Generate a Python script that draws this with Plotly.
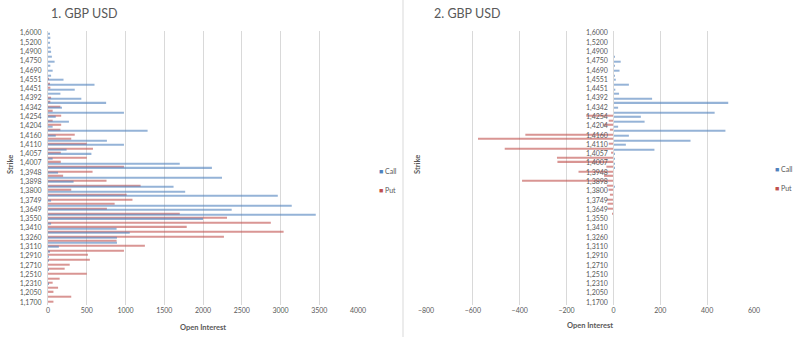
import plotly.graph_objects as go

# Strikes from top to bottom
strikes = ["1,6000", "1,5500", "1,5200", "1,5000", "1,4900", "1,4800", "1,4750", "1,4720",
           "1,4690", "1,4600", "1,4551", "1,4500", "1,4451", "1,4420", "1,4392", "1,4370",
           "1,4342", "1,4300", "1,4254", "1,4230", "1,4204", "1,4180", "1,4160", "1,4130",
           "1,4110", "1,4080", "1,4057", "1,4030", "1,4007", "1,3980", "1,3948", "1,3920",
           "1,3898", "1,3850", "1,3800", "1,3780", "1,3749", "1,3700", "1,3649", "1,3600",
           "1,3550", "1,3500", "1,3410", "1,3350", "1,3260", "1,3200", "1,3110", "1,3010",
           "1,2910", "1,2810", "1,2710", "1,2610", "1,2510", "1,2410", "1,2310", "1,2200",
           "1,2050", "1,1900", "1,1700"]
tick_strikes = strikes[::2]

# Chart 1: open interest
call_oi = [25, 30, 20, 35, 40, 50, 85, 30, 60, 40, 200, 600, 345, 160, 430, 750,
           180, 980, 100, 270, 60, 1285, 100, 760, 980, 240, 560, 60, 1700, 2115,
           130, 2245, 330, 1620, 1770, 2965, 40, 3145, 2370, 3455, 2000, 40, 885, 1055,
           890, 890, 140, 20, 10, 10, 0, 5, 0, 0, 10, 0, 0, 0, 0]
put_oi = [0, 0, 0, 0, 0, 0, 0, 0, 0, 0, 10, 20, 30, 0, 40, 30,
          160, 60, 170, 60, 170, 160, 345, 300, 500, 580, 165, 500, 165, 980,
          575, 195, 755, 1195, 300, 1015, 1090, 860, 760, 1700, 2310, 2875, 1790, 3040,
          2270, 885, 1250, 980, 515, 540, 280, 215, 500, 150, 60, 130, 70, 300, 70]

# Chart 2: change in open interest
call_chg = [0, 0, 0, 0, 0, 5, 31, 5, 26, 5, 10, 66, 8, 24, 165, 490,
            20, 432, 117, 133, 20, 478, 66, 329, 53, 175, 5, 3, 5, 3,
            2, 2, 0, 3, 0, 0, 0, 0, 0, 0, 0, 0, 0, 0,
            0, 0, 0, 0, 0, 0, 0, 0, 0, 0, 0, 0, 0, 0, 0]
put_chg = [0, 0, 0, 0, 0, 0, 0, 0, 0, 0, 0, 0, 0, 0, 0, 0,
           0, 0, -116, -20, -43, -15, -376, -578, -20, -464, -10, -241, -239, -30,
           -149, -40, -390, -28, -21, -15, -28, -25, -25, -6, 0, 0, 0, 0,
           0, 0, 0, 0, 0, 0, 0, 0, 0, 0, 0, 0, 0, 0, 0]

series_names = ["Call", "Put"]

BLUE = "#4F81BD"
RED = "#C0504D"
GRID = "#D9D9D9"
TXT = "#595959"
FONT = "Lato"
W, H = 800, 337

def px(x):
    return x / W

def py(y):
    return 1 - y / H

fig = go.Figure()

fig.add_trace(go.Bar(y=strikes, x=put_oi, orientation="h", marker_color=RED, opacity=0.6,
                     marker_line_width=0, showlegend=False, xaxis="x", yaxis="y"))
fig.add_trace(go.Bar(y=strikes, x=call_oi, orientation="h", marker_color=BLUE, opacity=0.6,
                     marker_line_width=0, showlegend=False, xaxis="x", yaxis="y"))
fig.add_trace(go.Bar(y=strikes, x=put_chg, orientation="h", marker_color=RED, opacity=0.6,
                     marker_line_width=0, showlegend=False, xaxis="x2", yaxis="y2"))
fig.add_trace(go.Bar(y=strikes, x=call_chg, orientation="h", marker_color=BLUE, opacity=0.6,
                     marker_line_width=0, showlegend=False, xaxis="x2", yaxis="y2"))

# legend entries (coloured square glyph placed right before the name)
for lg, xa, ya in [("legend", "x", "y"), ("legend2", "x2", "y2")]:
    for name, col in zip(series_names, [BLUE, RED]):
        fig.add_trace(go.Scatter(
            x=[None], y=[None], mode="markers",
            name=f"<span style='color:{col}'>■</span> {name}",
            marker=dict(symbol="square", size=1, color="rgba(0,0,0,0)"),
            legend=lg, xaxis=xa, yaxis=ya))

ydom = [py(304.5), py(30.7)]
yax_common = dict(type="category", categoryorder="array", categoryarray=strikes,
                  range=[len(strikes) - 0.5, -0.5], tickmode="array", tickvals=tick_strikes,
                  ticktext=tick_strikes, tickfont=dict(family=FONT, size=7, color=TXT),
                  showgrid=False, showline=True, linecolor=GRID, linewidth=1, ticks="",
                  ticklabelstandoff=4, domain=ydom, automargin=False)

legend_common = dict(xanchor="left", yanchor="top", font=dict(family=FONT, size=7, color=TXT),
                     itemwidth=30, tracegroupgap=0, bgcolor="rgba(0,0,0,0)")

fig.update_layout(
    width=W, height=H, margin=dict(l=0, r=0, t=0, b=0, autoexpand=False),
    paper_bgcolor="white", plot_bgcolor="white",
    barmode="group", bargap=0.45, bargroupgap=0,
    font=dict(family=FONT, color=TXT),
    xaxis=dict(domain=[px(48), px(358)], range=[0, 4000], dtick=500, showgrid=True,
               gridcolor=GRID, zeroline=False, showline=False, anchor="y", automargin=False,
               tickfont=dict(family=FONT, size=7, color=TXT),
               title=dict(text="<b>Open Interest</b>", font=dict(family=FONT, size=7.5, color=TXT),
                          standoff=12)),
    yaxis=dict(**yax_common, anchor="x"),
    xaxis2=dict(domain=[px(426), px(754)], range=[-800, 600], dtick=200, showgrid=True,
                gridcolor=GRID, zeroline=False, showline=False, anchor="y2", automargin=False,
                tickfont=dict(family=FONT, size=7, color=TXT),
                title=dict(text="<b>Open Interest</b>", font=dict(family=FONT, size=7.5, color=TXT),
                           standoff=10)),
    yaxis2=dict(**yax_common, anchor="free", position=px(613.3)),
    legend=dict(x=px(379 - 40), y=py(157), **legend_common),
    legend2=dict(x=px(775 - 40), y=py(155), **legend_common),
    annotations=[
        dict(text="1. GBP USD", x=px(49), y=py(14), xref="paper", yref="paper",
             xanchor="left", yanchor="middle", showarrow=False,
             font=dict(family=FONT, size=12.5, color=TXT)),
        dict(text="2. GBP USD", x=px(432), y=py(14), xref="paper", yref="paper",
             xanchor="left", yanchor="middle", showarrow=False,
             font=dict(family=FONT, size=12.5, color=TXT)),
        dict(text="<b>Strike</b>", x=px(11), y=py(165), xref="paper", yref="paper",
             xanchor="center", yanchor="middle", showarrow=False, textangle=-90,
             font=dict(family=FONT, size=7.5, color=TXT)),
        dict(text="<b>Strike</b>", x=px(418), y=py(165), xref="paper", yref="paper",
             xanchor="center", yanchor="middle", showarrow=False, textangle=-90,
             font=dict(family=FONT, size=7.5, color=TXT)),
    ],
    shapes=[dict(type="line", xref="paper", yref="paper", x0=px(403), x1=px(403),
                 y0=0, y1=1, line=dict(color=GRID, width=1))],
)

fig.write_html("out.html")
